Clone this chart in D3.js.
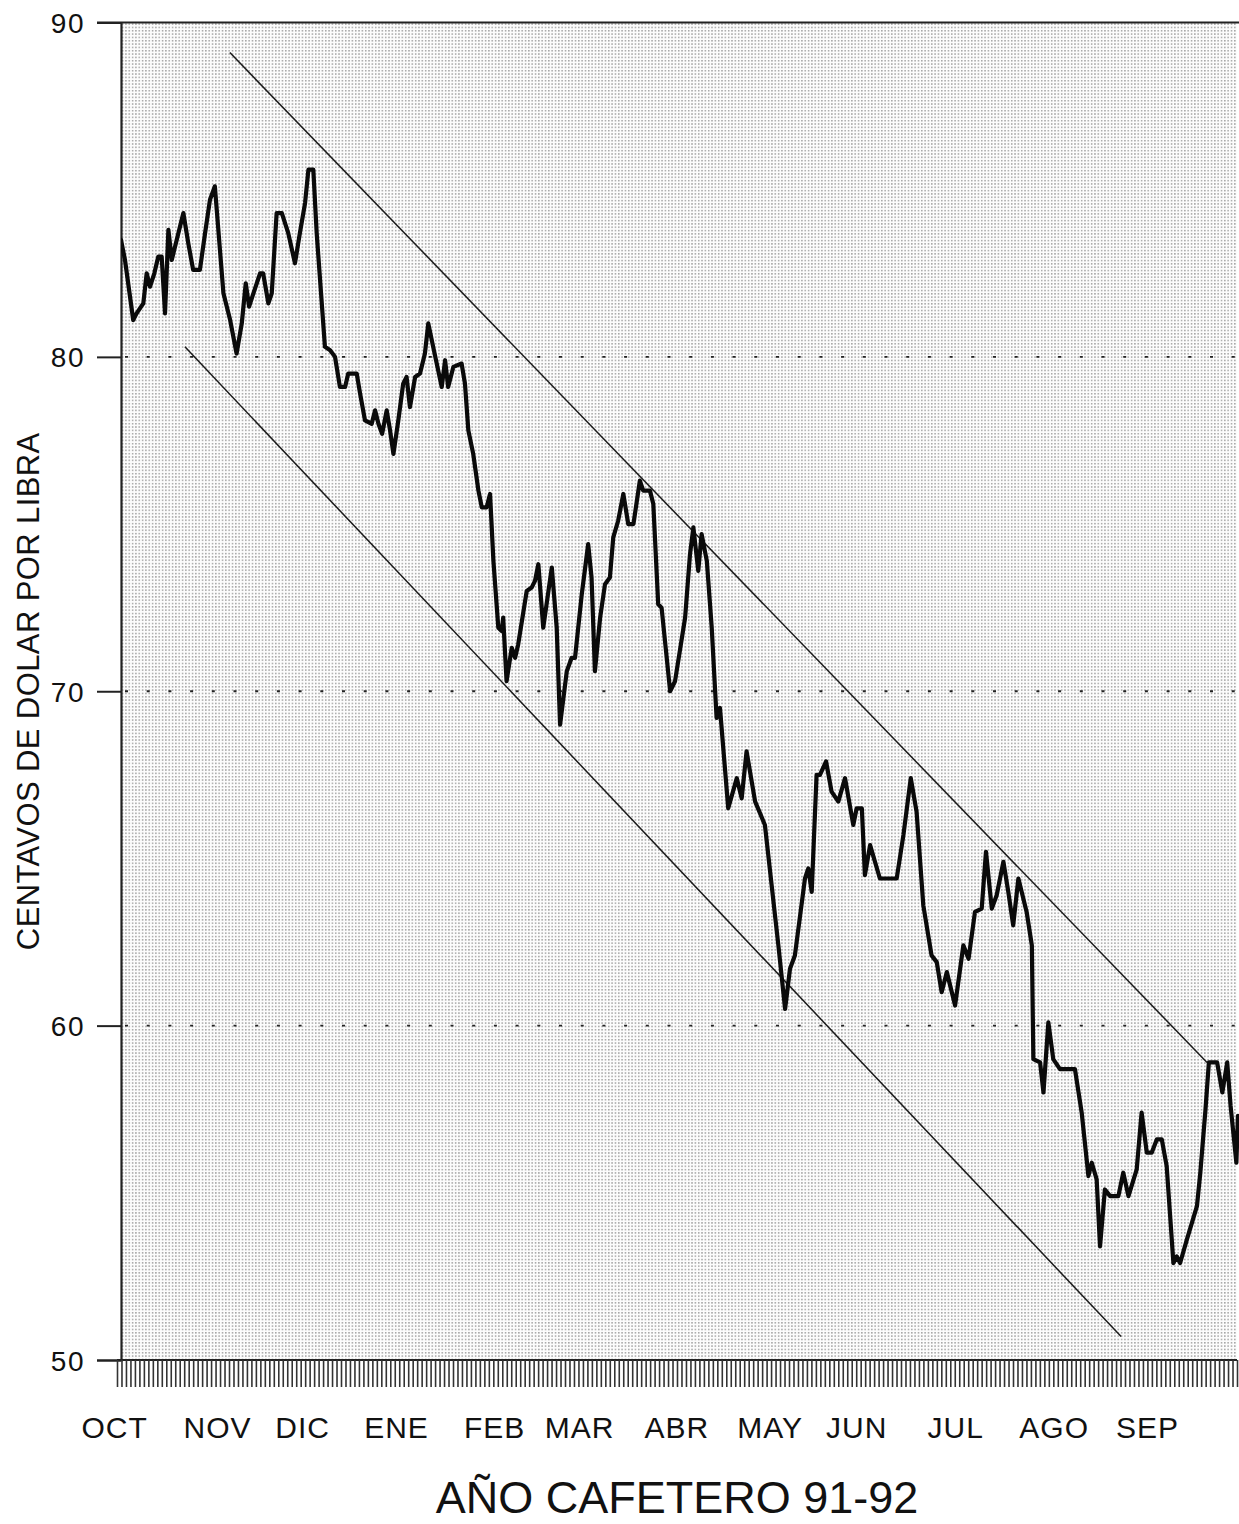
<!DOCTYPE html>
<html>
<head>
<meta charset="utf-8">
<script src="https://cdn.jsdelivr.net/npm/d3@7/dist/d3.min.js"></script>
<style>
  html, body { margin: 0; padding: 0; background: #fff; }
  svg { display: block; }
  text { font-family: "Liberation Sans", Arial, Helvetica, sans-serif; fill: #111; }
</style>
</head>
<body>
<svg id="chart" width="1239" height="1524"></svg>
<script>
// ---------------- DATA ----------------
const yTickValues = [50, 60, 70, 80, 90];
const gridValues = [60, 70, 80];
const monthLabels = ["OCT", "NOV", "DIC", "ENE", "FEB", "MAR", "ABR", "MAY", "JUN", "JUL", "AGO", "SEP"];
const monthLabelDays = [-2.1, 31.6, 59.4, 90.1, 122.2, 150.0, 181.8, 212.3, 240.6, 273.0, 305.2, 335.7];
const tradingSessions = 250;

// price series (day of coffee year, cents per pound)
const priceDays = [
  0, 1.3, 4.0, 5.1, 7.3, 8.4, 9.5, 10.9, 12.2, 13.3, 14.4, 15.5, 16.6, 20.4, 22.0, 23.6, 25.8, 27.5, 29.1, 30.7,
  33.5, 35.7, 37.8, 39.5, 40.8, 41.9, 43.3, 45.5, 46.5, 48.2, 49.3, 50.9, 52.6, 54.7, 56.9, 58.5, 60.2, 61.3, 62.9, 64.0,
  66.7, 68.4, 70.0, 71.6, 73.3, 74.3, 77.1, 78.2, 79.8, 82.0, 83.1, 84.2, 85.4, 86.9, 88.0, 89.1, 90.7, 92.3, 93.4, 94.5,
  96.2, 97.8, 99.4, 100.5, 102.1, 104.9, 106.0, 107.0, 108.7, 111.4, 112.5, 113.6, 115.2, 116.9, 118.0, 119.6, 120.7, 121.8, 123.4, 124.5,
  125.0, 126.1, 127.8, 128.9, 129.9, 132.7, 134.3, 135.4, 136.5, 138.1, 139.8, 140.9, 142.5, 143.6, 145.8, 147.4, 148.5, 150.7, 152.8, 153.9,
  155.0, 156.7, 158.3, 159.9, 161.0, 162.6, 164.3, 165.9, 167.6, 169.7, 170.8, 173.0, 174.1, 175.7, 176.8, 179.6, 181.2, 184.5, 186.1, 187.2,
  188.8, 189.9, 191.6, 193.2, 194.8, 195.9, 198.6, 201.4, 203.0, 204.6, 207.4, 210.6, 212.8, 215.0, 217.2, 218.8, 220.4, 223.7, 224.8, 225.9,
  227.5, 228.6, 230.6, 232.4, 234.6, 236.8, 239.5, 240.6, 242.3, 243.3, 245.0, 248.2, 253.7, 255.9, 258.3, 260.2, 262.4, 265.1, 266.8, 268.4,
  270.1, 272.8, 275.5, 277.2, 279.3, 281.5, 282.9, 284.8, 286.4, 288.6, 290.2, 291.8, 293.5, 296.2, 297.9, 298.4, 300.6, 301.7, 303.3, 304.9,
  307.1, 312.0, 314.2, 316.4, 317.5, 319.1, 320.2, 321.8, 323.5, 326.2, 327.8, 329.5, 332.2, 333.8, 335.5, 337.1, 338.8, 340.4, 342.0, 344.2,
  345.3, 346.4, 348.6, 351.9, 353.0, 354.7, 355.8, 358.5, 360.2, 361.8, 362.9, 364.8, 365.3
];
const priceValues = [
  83.5, 82.9, 81.1, 81.3, 81.6, 82.5, 82.1, 82.5, 83.0, 83.0, 81.3, 83.8, 82.9, 84.3, 83.4, 82.6, 82.6, 83.7, 84.7, 85.1,
  81.9, 81.1, 80.1, 81.0, 82.2, 81.5, 81.9, 82.5, 82.5, 81.6, 81.9, 84.3, 84.3, 83.7, 82.8, 83.7, 84.6, 85.6, 85.6, 83.7,
  80.3, 80.2, 80.0, 79.1, 79.1, 79.5, 79.5, 78.9, 78.1, 78.0, 78.4, 78.0, 77.7, 78.4, 77.8, 77.1, 78.1, 79.2, 79.4, 78.5,
  79.4, 79.5, 80.1, 81.0, 80.3, 79.1, 79.9, 79.1, 79.7, 79.8, 79.2, 77.8, 77.1, 76.0, 75.5, 75.5, 75.9, 73.9, 71.9, 71.8,
  72.2, 70.3, 71.3, 71.0, 71.4, 73.0, 73.1, 73.3, 73.8, 71.9, 73.0, 73.7, 71.9, 69.0, 70.6, 71.0, 71.0, 72.9, 74.4, 73.4,
  70.6, 72.2, 73.2, 73.4, 74.6, 75.1, 75.9, 75.0, 75.0, 76.3, 76.0, 76.0, 75.6, 72.6, 72.5, 70.0, 70.3, 72.2, 74.1, 74.9,
  73.6, 74.7, 73.9, 71.9, 69.2, 69.5, 66.5, 67.4, 66.8, 68.2, 66.7, 66.0, 64.2, 62.4, 60.5, 61.7, 62.1, 64.4, 64.7, 64.0,
  67.5, 67.5, 67.9, 67.0, 66.7, 67.4, 66.0, 66.5, 66.5, 64.5, 65.4, 64.4, 64.4, 65.7, 67.4, 66.4, 63.6, 62.1, 61.9, 61.0,
  61.6, 60.6, 62.4, 62.0, 63.4, 63.5, 65.2, 63.5, 63.9, 64.9, 64.0, 63.0, 64.4, 63.4, 62.4, 59.0, 58.9, 58.0, 60.1, 59.0,
  58.7, 58.7, 57.4, 55.5, 55.9, 55.4, 53.4, 55.1, 54.9, 54.9, 55.6, 54.9, 55.7, 57.4, 56.2, 56.2, 56.6, 56.6, 55.8, 52.9,
  53.1, 52.9, 53.6, 54.6, 55.6, 57.5, 58.9, 58.9, 58.0, 58.9, 57.6, 55.9, 57.3
];

// trend channel lines
const upperChannelDays = [35.6, 355.2];
const upperChannelValues = [89.1, 58.9];
const lowerChannelDays = [20.9, 327.1];
const lowerChannelValues = [80.3, 50.7];

// ---------------- CHART ----------------
(function () {
const svg = d3.select("#chart");
const plotLeft = 121, plotRight = 1237, plotTop = 22.5, plotBottom = 1360;

const x = d3.scaleLinear().domain([0, 365]).range([plotLeft, plotRight]);
const y = d3.scaleLinear().domain([50, 90]).range([plotBottom, plotTop]);

// dotted background pattern
const defs = svg.append("defs");
const pat = defs.append("pattern")
  .attr("id", "dots").attr("patternUnits", "userSpaceOnUse")
  .attr("x", plotLeft).attr("y", plotTop)
  .attr("width", 3.33).attr("height", 3.33);
pat.append("rect").attr("width", 3.33).attr("height", 3.33).attr("fill", "#fcfcfc");
pat.append("rect").attr("x", 0.9).attr("y", 0.9).attr("width", 1.4).attr("height", 1.4).attr("fill", "#959595");

defs.append("clipPath").attr("id", "plotClip")
  .append("rect").attr("x", plotLeft).attr("y", plotTop - 2).attr("width", plotRight - plotLeft + 4).attr("height", plotBottom - plotTop + 4);

svg.append("rect")
  .attr("x", plotLeft).attr("y", plotTop)
  .attr("width", plotRight - plotLeft).attr("height", plotBottom - plotTop)
  .attr("fill", "url(#dots)");

// dotted horizontal gridlines
svg.append("g").selectAll("line").data(gridValues).join("line")
  .attr("x1", plotLeft + 4).attr("x2", plotRight)
  .attr("y1", d => y(d)).attr("y2", d => y(d))
  .attr("stroke", "#222").attr("stroke-width", 1.8)
  .attr("stroke-dasharray", "3,18.7");

// Y axis
const yAxis = d3.axisLeft(y).tickValues(yTickValues).tickSize(24).tickPadding(12).tickFormat(d3.format("d"));
const gy = svg.append("g").attr("transform", `translate(${plotLeft},0)`).call(yAxis);
gy.select(".domain").attr("stroke", "#222").attr("stroke-width", 2.2);
gy.selectAll(".tick line").attr("stroke", "#222").attr("stroke-width", 2);
gy.selectAll(".tick text")
  .style("font-family", "'Liberation Sans', Arial, sans-serif")
  .attr("font-size", 28).attr("letter-spacing", 1.5).attr("fill", "#111").attr("dy", "0.36em");

// top frame line
svg.append("line")
  .attr("x1", plotLeft - 24).attr("x2", 1239)
  .attr("y1", y(90)).attr("y2", y(90))
  .attr("stroke", "#222").attr("stroke-width", 2);

// bottom axis line
svg.append("line")
  .attr("x1", plotLeft - 4).attr("x2", plotRight)
  .attr("y1", y(50)).attr("y2", y(50))
  .attr("stroke", "#222").attr("stroke-width", 2);

// session ticks along the bottom
const xs = d3.scaleLinear().domain([0, tradingSessions]).range([plotLeft - 4, plotRight]);
const xAxis = d3.axisBottom(xs).tickValues(d3.range(0, tradingSessions + 1)).tickSize(27).tickFormat("");
const gx = svg.append("g").attr("transform", `translate(0,${plotBottom})`).call(xAxis);
gx.select(".domain").remove();
gx.selectAll(".tick line").attr("stroke", "#333").attr("stroke-width", 1.6);

// month labels
svg.append("g").selectAll("text").data(monthLabels).join("text")
  .attr("x", (d, i) => x(monthLabelDays[i]))
  .attr("y", 1438)
  .attr("text-anchor", "middle")
  .attr("font-size", 30).attr("letter-spacing", 1)
  .text(d => d);

// axis titles
svg.append("text")
  .attr("transform", `translate(39,${y(70)}) rotate(-90)`)
  .attr("text-anchor", "middle")
  .attr("font-size", 31).attr("letter-spacing", 0.4)
  .text("CENTAVOS DE DOLAR POR LIBRA");

svg.append("text")
  .attr("x", 677).attr("y", 1513)
  .attr("text-anchor", "middle")
  .attr("font-size", 45)
  .text("AÑO CAFETERO 91-92");

// channel lines
const chan = d3.line().x(d => x(d[0])).y(d => y(d[1]));
svg.append("path")
  .datum(d3.zip(upperChannelDays, upperChannelValues))
  .attr("d", chan).attr("fill", "none").attr("stroke", "#1a1a1a").attr("stroke-width", 1.5);
svg.append("path")
  .datum(d3.zip(lowerChannelDays, lowerChannelValues))
  .attr("d", chan).attr("fill", "none").attr("stroke", "#1a1a1a").attr("stroke-width", 1.5);

// price line
const priceLine = d3.line().x(d => x(d[0])).y(d => y(d[1])).curve(d3.curveLinear);
svg.append("path")
  .datum(d3.zip(priceDays, priceValues))
  .attr("clip-path", "url(#plotClip)")
  .attr("d", priceLine)
  .attr("fill", "none").attr("stroke", "#0a0a0a")
  .attr("stroke-width", 4.2).attr("stroke-linejoin", "round").attr("stroke-linecap", "round");
})();
</script>
</body>
</html>
